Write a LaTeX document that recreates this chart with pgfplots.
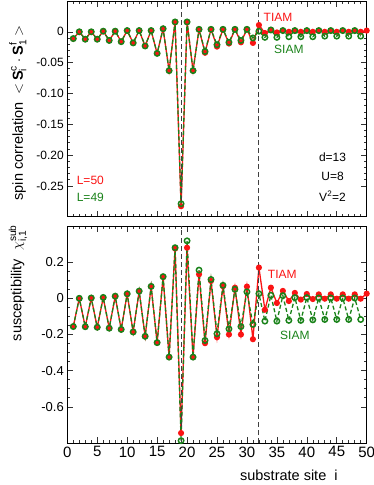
\documentclass[border=0pt]{standalone}
\usepackage{fontspec}
\setmainfont{Liberation Sans}
\usepackage{amsmath}
\usepackage{pgfplots}
\usepackage{pgfplotstable}
\pgfplotsset{compat=1.18}

\definecolor{tiam}{RGB}{250,20,20}
\definecolor{siam}{RGB}{25,130,25}

% spin correlation, TIAM (L=50)
\pgfplotstableread{
i  v
1  -0.011
2  0.000
3  -0.012
4  0.000
5  -0.012
6  0.001
7  -0.014
8  0.001
9  -0.016
10 0.002
11 -0.018
12 0.002
13 -0.023
14 0.002
15 -0.035
16 0.005
17 -0.063
18 0.016
19 -0.283
20 0.016
21 -0.063
22 0.004
23 -0.034
24 0.004
25 -0.024
26 0.004
27 -0.019
28 0.004
29 -0.017
30 0.004
31 -0.018
32 0.011
33 -0.002
34 0.003
35 -0.001
36 0.002
37 0.000
38 0.002
39 0.000
40 0.002
41 0.000
42 0.002
43 0.000
44 0.002
45 0.000
46 0.002
47 0.000
48 0.002
49 0.000
50 0.002
}\corrT

% spin correlation, SIAM (L=49)
\pgfplotstableread{
i  v
1  -0.011
2  0.000
3  -0.012
4  0.000
5  -0.012
6  0.001
7  -0.014
8  0.001
9  -0.016
10 0.002
11 -0.018
12 0.002
13 -0.023
14 0.002
15 -0.035
16 0.005
17 -0.063
18 0.016
19 -0.279
20 0.016
21 -0.063
22 0.004
23 -0.032
24 0.004
25 -0.021
26 0.004
27 -0.017
28 0.004
29 -0.014
30 0.004
31 -0.010
32 0.001
33 -0.009
34 0.003
35 -0.009
36 0.002
37 -0.008
38 0.002
39 -0.008
40 0.002
41 -0.008
42 0.002
43 -0.007
44 0.002
45 -0.007
46 0.002
47 -0.007
48 0.002
49 -0.007
}\corrS

% susceptibility, TIAM
\pgfplotstableread{
i  v
1  -0.156
2  0.000
3  -0.157
4  0.002
5  -0.160
6  0.004
7  -0.165
8  0.011
9  -0.172
10 0.024
11 -0.186
12 0.039
13 -0.210
14 0.065
15 -0.245
16 0.118
17 -0.325
18 0.275
19 -0.745
20 0.280
21 -0.325
22 0.133
23 -0.248
24 0.096
25 -0.215
26 0.067
27 -0.200
28 0.059
29 -0.200
30 0.065
31 -0.226
32 0.170
33 -0.063
34 0.059
35 -0.026
36 0.041
37 -0.015
38 0.030
39 -0.007
40 0.024
41 -0.004
42 0.022
43 -0.002
44 0.022
45 -0.002
46 0.022
47 -0.002
48 0.022
49 -0.002
50 0.026
}\susT

% susceptibility, SIAM
\pgfplotstableread{
i  v
1  -0.156
2  0.000
3  -0.157
4  0.002
5  -0.160
6  0.005
7  -0.165
8  0.012
9  -0.172
10 0.025
11 -0.186
12 0.040
13 -0.210
14 0.066
15 -0.245
16 0.120
17 -0.325
18 0.280
19 -0.787
20 0.318
21 -0.325
22 0.156
23 -0.233
24 0.104
25 -0.196
26 0.072
27 -0.169
28 0.050
29 -0.156
30 0.036
31 -0.144
32 0.026
33 -0.126
34 0.017
35 -0.126
36 0.015
37 -0.122
38 0.004
39 -0.122
40 0.004
41 -0.119
42 0.002
43 -0.117
44 0.002
45 -0.117
46 0.002
47 -0.117
48 0.002
49 -0.117
}\susS

\pgfplotsset{
  panel/.style={
    scale only axis, width=299.4pt,
    xmin=0, xmax=50,
    xtick={0,5,...,50}, minor x tick num=4,
    tick align=inside,
    major tick length=6pt, minor tick length=3pt,
    axis line style={line width=0.8pt},
    every tick/.style={line width=0.6pt, black!80},
    /pgf/number format/assume math mode=true,
    clip=false,
  },
  tiamline/.style={tiam, line width=1.3pt, mark=*, mark size=2.4pt, mark options={fill=tiam, draw=tiam}},
  siamline/.style={siam, line width=1.3pt, dash pattern=on 4pt off 2.5pt, mark=o, mark size=2.7pt, mark options={solid, line width=1.5pt}},
  sep/.style={black!75, line width=1pt, dash pattern=on 5pt off 3pt},
}

\begin{document}
\begin{tikzpicture}
\useasboundingbox (0,0) rectangle (374pt,485pt);

% upper panel: spin correlation
\begin{axis}[panel,
  at={(67.3pt,268.3pt)}, anchor=south west, height=215.7pt,
  ymin=-0.3, ymax=0.05,
  ytick={-0.25,-0.2,-0.15,-0.1,-0.05,0},
  yticklabels={-0.25,-0.20,-0.15,-0.10,-0.05,0},
  minor y tick num=4,
  xticklabels={},
  yticklabel style={font=\fontsize{12}{14}\selectfont},
  ylabel={spin correlation\ \ $<$\,$\textbf{S}^{\text{c}}_{\text{i}}\cdot\textbf{S}^{\text{f}}_{\text{1}}$\,$>$},
  ylabel style={at={(axis description cs:-0.165,0.48)}, anchor=center, font=\fontsize{14.5}{16}\selectfont},
]
\addplot[tiamline] table[x=i, y=v] {\corrT};
\addplot[siamline] table[x=i, y=v] {\corrS};
\addplot[sep] coordinates {(19,-0.3) (19,0.05)};
\addplot[sep] coordinates {(32,-0.3) (32,0.05)};
\node[tiam, font=\fontsize{12}{14}\selectfont] at (axis cs:35.2,0.024) {TIAM};
\node[siam, font=\fontsize{12}{14}\selectfont] at (axis cs:37,-0.029) {SIAM};
\node[tiam, font=\fontsize{12}{14}\selectfont, anchor=west] at (axis cs:1.0,-0.241) {L=50};
\node[siam, font=\fontsize{12}{14}\selectfont, anchor=west] at (axis cs:1.0,-0.269) {L=49};
\node[font=\fontsize{12}{14}\selectfont] at (axis cs:44.3,-0.204) {d=13};
\node[font=\fontsize{12}{14}\selectfont] at (axis cs:44.3,-0.235) {U=8};
\node[font=\fontsize{12}{14}\selectfont] at (axis cs:44.3,-0.267) {V\textsuperscript{2}=2};
\end{axis}

% lower panel: susceptibility
\begin{axis}[panel,
  at={(67.3pt,42pt)}, anchor=south west, height=217pt,
  ymin=-0.8, ymax=0.4,
  ytick={-0.6,-0.4,-0.2,0,0.2},
  yticklabels={-0.6,-0.4,-0.2,0,0.2},
  minor y tick num=3,
  yticklabel style={font=\fontsize{13}{15}\selectfont},
  xticklabel style={font=\fontsize{15}{17}\selectfont},
  xlabel={substrate site\ \ i},
  xlabel style={at={(axis description cs:0.74,-0.148)}, anchor=center, font=\fontsize{14.5}{16}\selectfont},
  ylabel={susceptibility\ \ $\chi^{\text{sub}}_{\text{i,1}}$},
  ylabel style={at={(axis description cs:-0.165,0.737)}, anchor=center, font=\fontsize{14.5}{16}\selectfont},
]
\addplot[tiamline] table[x=i, y=v] {\susT};
\addplot[siamline] table[x=i, y=v] {\susS};
\addplot[sep] coordinates {(19,-0.8) (19,0.4)};
\addplot[sep] coordinates {(32,-0.8) (32,0.4)};
\node[tiam, font=\fontsize{12}{14}\selectfont] at (axis cs:35.9,0.133) {TIAM};
\node[siam, font=\fontsize{12}{14}\selectfont] at (axis cs:38,-0.206) {SIAM};
\end{axis}
\end{tikzpicture}
\end{document}
